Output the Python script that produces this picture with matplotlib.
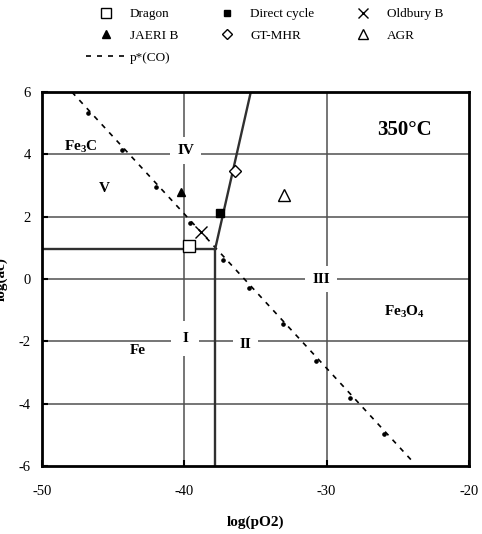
import matplotlib
matplotlib.use("Agg")
import matplotlib.pyplot as plt

plt.rcParams['font.family'] = ['Liberation Serif', 'DejaVu Serif']
plt.rcParams['mathtext.fontset'] = 'custom'
plt.rcParams['mathtext.default'] = 'regular'
plt.rcParams['axes.unicode_minus'] = False

# reactor operating points: log(pO2), log(ac)
reactors = ["Dragon", "Direct cycle", "Oldbury B", "JAERI B", "GT-MHR", "AGR"]
reactor_x = [-39.65, -37.47, -38.83, -40.23, -36.44, -32.97]
reactor_y = [1.07, 2.11, 1.50, 2.80, 3.47, 2.70]

# p*(CO) line ends and its dot points
pco_x = [-47.9, -23.95]
pco_y = [6.0, -5.86]
pco_dot_x = [-46.75, -44.40, -41.99, -39.62, -37.27, -35.45, -33.09, -30.72, -28.33, -25.97]
pco_dot_y = [5.32, 4.14, 2.96, 1.79, 0.61, -0.28, -1.45, -2.63, -3.81, -4.98]

# phase boundaries
fe_fe3c_x = [-50, -37.84]
fe_fe3c_y = [0.95, 0.95]
fe_fe3o4_x = [-37.84, -37.84]
fe_fe3o4_y = [0.95, -6]
fe3c_fe3o4_x = [-37.84, -35.33]
fe3c_fe3o4_y = [0.95, 6]

fig = plt.figure(figsize=(4.82, 5.34), dpi=100)
ax = fig.add_axes([0.0871, 0.1273, 0.8859, 0.7004])

grid_c = '#505050'
for yv in [-4, -2, 0, 2, 4]:
    ax.axhline(yv, color=grid_c, lw=1.1, zorder=1)
for xv in [-40, -30]:
    ax.axvline(xv, color=grid_c, lw=1.1, zorder=1)

phase_c = '#303030'
ax.plot(fe_fe3c_x, fe_fe3c_y, color=phase_c, lw=1.7, zorder=4)
ax.plot(fe_fe3o4_x, fe_fe3o4_y, color=phase_c, lw=1.7, zorder=4)
ax.plot(fe3c_fe3o4_x, fe3c_fe3o4_y, color=phase_c, lw=1.7, zorder=4)

pco_line, = ax.plot(pco_x, pco_y, color='black', lw=1.2, linestyle=(0, (3, 3.6)),
                    zorder=3, label='p*(CO)')
ax.plot(pco_dot_x, pco_dot_y, 'o', color='black', ms=2.3, zorder=3)

styles = {
    "Dragon": dict(marker='s', ms=8, mfc='white', mec='black', mew=1),
    "Direct cycle": dict(marker='s', ms=5.5, mfc='black', mec='black', mew=1),
    "Oldbury B": dict(marker='x', ms=9, mec='black', mew=1),
    "JAERI B": dict(marker='^', ms=6, mfc='black', mec='black', mew=1),
    "GT-MHR": dict(marker='D', ms=6.5, mfc='white', mec='black', mew=1),
    "AGR": dict(marker='^', ms=8, mfc='white', mec='black', mew=1),
}
handles = {}
for name, x, y in zip(reactors, reactor_x, reactor_y):
    h, = ax.plot([x], [y], linestyle='none', label=name, zorder=5, **styles[name])
    handles[name] = h

box = dict(facecolor='white', edgecolor='none', pad=5)
lab = dict(fontsize=11, fontweight='bold', ha='center', va='center', zorder=3)
ax.text(-47.3, 4.25, r'Fe$_3$C', **lab)
ax.text(-39.9, 4.12, 'IV', bbox=box, **lab)
ax.text(-45.6, 2.9, 'V', **lab)
ax.text(-30.4, 0.0, 'III', bbox=box, **lab)
ax.text(-24.5, -1.06, r'Fe$_3$O$_4$', **lab)
ax.text(-39.95, -1.9, 'I', bbox=dict(facecolor='white', edgecolor='none', pad=8), **lab)
ax.text(-35.7, -2.1, 'II', bbox=box, **lab)
ax.text(-43.3, -2.3, 'Fe', **lab)
ax.text(-24.56, 4.78, '350°C', fontsize=15, fontweight='bold', ha='center', va='center')

ax.set_xlim(-50, -20)
ax.set_ylim(-6, 6)
ax.set_xticks([-50, -40, -30, -20])
ax.set_yticks([-6, -4, -2, 0, 2, 4, 6])
ax.tick_params(axis='both', direction='in', length=4, width=1.5, labelsize=10.5)
ax.tick_params(axis='x', pad=14)
ax.tick_params(axis='y', pad=8)
for s in ax.spines.values():
    s.set_linewidth(2)
    s.set_zorder(6)

ax.set_xlabel('log(pO2)', fontsize=11, fontweight='bold', labelpad=12)
fig.text(0.002, 0.477, 'log(ac)', fontsize=11, fontweight='bold', rotation=90,
         ha='center', va='center')

order = ["Dragon", "JAERI B", None, "Direct cycle", "GT-MHR", "Oldbury B", "AGR"]
leg_h = [handles[n] if n else pco_line for n in order]
leg_l = [n if n else 'p*(CO)' for n in order]
fig.legend(leg_h, leg_l, loc='upper left', bbox_to_anchor=(86 / 482, 1 - 8 / 534),
           ncol=3, frameon=False, fontsize=9.5, numpoints=1, handlelength=3,
           handletextpad=0.3, columnspacing=2.2, labelspacing=0.72,
           markerscale=0.85, borderpad=0, borderaxespad=0)

fig.savefig('out.png', dpi=100)
